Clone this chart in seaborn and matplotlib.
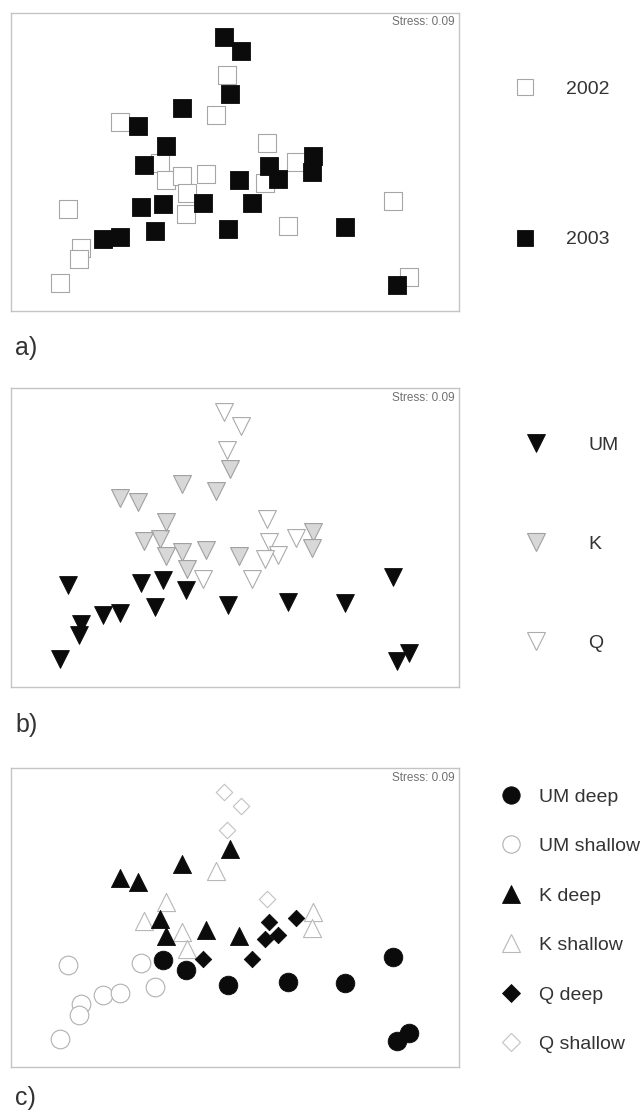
import matplotlib
matplotlib.use("Agg")
import matplotlib.pyplot as plt
from matplotlib.lines import Line2D
import pandas as pd
import seaborn as sns

# NMDS ordination scores (axis 1, axis 2), one entry per sample
nmds1 = [-0.11, 0.06, -0.08, 0.32, -0.05, -0.53, -1.15, -0.97, -0.75, -0.69,
         -0.29, 0.04, -0.19, -0.69, -0.91, -0.53, -0.48, 0.78, 0.77, 0.34,
         0.61, 0.43, 0.30, -0.32, 0.17, -0.72, -0.49, -0.07, 0.53, 1.10,
         1.58, 1.62, 1.74, -1.67, -0.94, -0.80, -1.32, -1.15, -1.54, -1.56,
         -1.75]
nmds2 = [1.23, 1.09, 0.85, 0.17, 0.66, 0.52, 0.38, 0.34, -0.03, -0.20,
         -0.14, -0.20, 0.45, 0.14, -0.05, -0.16, -0.33, 0.04, -0.12, -0.06,
         -0.02, -0.19, -0.23, -0.43, -0.43, -0.44, -0.54, -0.69, -0.66, -0.67,
         -0.41, -1.25, -1.17, -0.49, -0.47, -0.71, -0.79, -0.77, -0.88, -0.99,
         -1.23]
year = ["2003", "2003", "2002", "2002", "2003", "2003", "2002", "2003", "2002", "2002",
        "2002", "2003", "2002", "2003", "2003", "2002", "2002", "2003", "2003", "2003",
        "2002", "2003", "2002", "2003", "2003", "2003", "2002", "2003", "2002", "2003",
        "2002", "2003", "2002", "2002", "2003", "2003", "2003", "2003", "2002", "2002",
        "2002"]
site = ["Q", "Q", "Q", "Q", "K", "K", "K", "K", "K", "K",
        "K", "K", "K", "K", "K", "K", "K", "K", "K", "Q",
        "Q", "Q", "Q", "Q", "Q", "UM", "UM", "UM", "UM", "UM",
        "UM", "UM", "UM", "UM", "UM", "UM", "UM", "UM", "UM", "UM",
        "UM"]
depth = ["shallow", "shallow", "shallow", "shallow", "deep", "deep", "deep", "deep", "deep", "deep",
         "deep", "deep", "shallow", "shallow", "shallow", "shallow", "shallow", "shallow", "shallow", "deep",
         "deep", "deep", "deep", "deep", "deep", "deep", "deep", "deep", "deep", "deep",
         "deep", "deep", "deep", "shallow", "shallow", "shallow", "shallow", "shallow", "shallow", "shallow",
         "shallow"]

stress_label = "Stress: 0.09"
panel_labels = ["a)", "b)", "c)"]

df = pd.DataFrame({"nmds1": nmds1, "nmds2": nmds2, "year": year,
                   "site": site, "depth": depth})
df["group"] = df["site"] + " " + df["depth"]

sns.set_theme(style="white")
plt.rcParams["font.family"] = ["Liberation Sans", "DejaVu Sans"]

W, H = 643, 1110
fig = plt.figure(figsize=(W / 100, H / 100), dpi=100)
fig.patch.set_facecolor("white")

BLACK = "#0b0b0b"

# (drawing order) key -> marker, size, face, edge, edge width
styles_a = {
    "2002": ("s", 160, "white", "#a6a6a6", 0.8),
    "2003": ("s", 160, BLACK, BLACK, 0.6),
}
styles_b = {
    "Q": ("v", 165, "white", "#ababab", 0.8),
    "K": ("v", 165, "#d8d8d8", "#a0a0a0", 0.8),
    "UM": ("v", 165, BLACK, BLACK, 0.6),
}
styles_c = {
    "UM shallow": ("o", 180, "white", "#b0b0b0", 0.8),
    "K shallow": ("^", 170, "white", "#b8b8b8", 0.8),
    "Q shallow": ("D", 70, "white", "#c2c2c2", 0.8),
    "UM deep": ("o", 180, BLACK, BLACK, 0.6),
    "K deep": ("^", 170, BLACK, BLACK, 0.6),
    "Q deep": ("D", 70, BLACK, BLACK, 0.6),
}

panels = [
    # axes box (left, top, right, bottom) in pixels, grouping column, styles,
    # legend order, legend layout (x, y, labelspacing, handletextpad, markersize)
    ((11, 12.7, 459, 310.7), "year", styles_a, ["2002", "2003"],
     (515, 80, 6.85, 1.6, 12)),
    ((11, 388, 459, 686.7), "site", styles_b, ["UM", "K", "Q"],
     (526, 436, 4.2, 2.2, 12.5)),
    ((11, 768, 459, 1066.7), "group", styles_c,
     ["UM deep", "UM shallow", "K deep", "K shallow", "Q deep", "Q shallow"],
     (501, 788, 1.64, 0.95, 12.5)),
]
label_y = [348, 725, 1098]

for (box, col, styles, order, leg), lab, ly in zip(panels, panel_labels, label_y):
    l, t, r, b = box
    ax = fig.add_axes([l / W, 1 - b / H, (r - l) / W, (b - t) / H])
    for key, (m, s, face, edge, lw) in styles.items():
        sub = df[df[col] == key]
        sns.scatterplot(data=sub, x="nmds1", y="nmds2", marker=m, s=s,
                        color=face, edgecolor=edge, linewidth=lw,
                        ax=ax, legend=False, zorder=3)
    ax.set_xlim(-2.24, 2.24)
    ax.set_ylim(-1.507, 1.473)
    ax.set_xticks([])
    ax.set_yticks([])
    ax.set_xlabel("")
    ax.set_ylabel("")
    for sp in ax.spines.values():
        sp.set_color("#c4c4c4")
        sp.set_linewidth(1.0)
    ax.text(0.991, 0.988, stress_label, transform=ax.transAxes,
            ha="right", va="top", fontsize=8.5, color="#707070")

    lx, lyy, lsp, pad, ms = leg
    handles = []
    for key in order:
        m, s, face, edge, lw = styles[key]
        msz = ms * (0.72 if m == "D" else 1.0)
        handles.append(Line2D([], [], linestyle="none", marker=m,
                              markersize=msz, markerfacecolor=face,
                              markeredgecolor=edge, markeredgewidth=lw))
    fig.legend(handles, order, loc="upper left",
               bbox_to_anchor=(lx / W, 1 - lyy / H), frameon=False,
               borderpad=0, borderaxespad=0, handlelength=1.0,
               handletextpad=pad, labelspacing=lsp, fontsize=14,
               labelcolor="#333333")

    fig.text(15 / W, 1 - ly / H, lab, ha="left", va="center",
             fontsize=18, color="#333333")

fig.savefig("out.png", dpi=100, facecolor="white")
